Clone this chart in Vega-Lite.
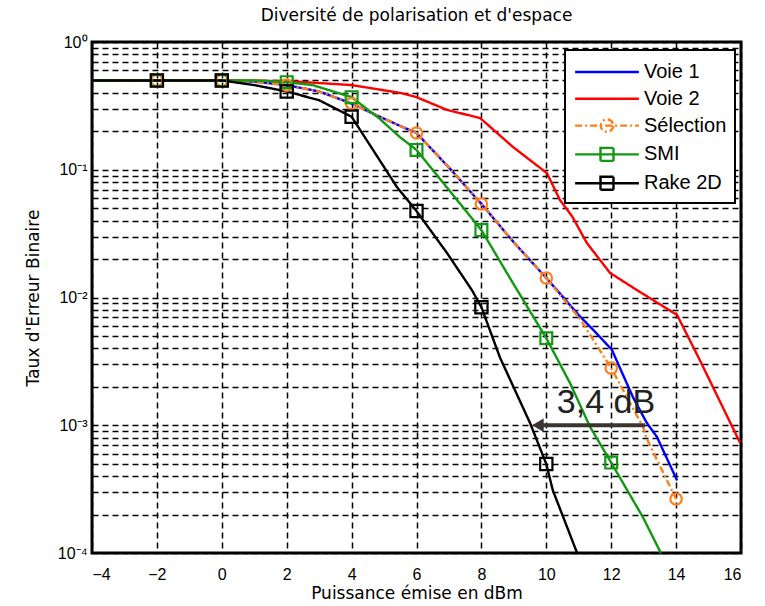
{
  "$schema": "https://vega.github.io/schema/vega-lite/v6.json",
  "autosize": "none",
  "width": 649,
  "height": 511,
  "padding": {"left": 92, "top": 42, "right": 24, "bottom": 53},
  "background": "white",
  "title": {"text": "Diversité de polarisation et d'espace", "font": "DejaVu Sans", "fontSize": 17, "fontWeight": "normal", "color": "black", "offset": 9, "anchor": "middle"},
  "config": {
    "view": {"stroke": "black", "strokeWidth": 3},
    "axis": {
      "labelFont": "Liberation Sans", "labelFontSize": 16, "labelColor": "black",
      "titleFont": "DejaVu Sans", "titleFontSize": 17, "titleFontWeight": "normal", "titleColor": "black",
      "grid": true, "gridColor": "black", "gridDash": [6, 4], "gridWidth": 1.5, "gridOpacity": 1,
      "ticks": false, "domain": false
    },
    "legend": {
      "orient": "none", "legendX": 473, "legendY": 8, "strokeColor": "black", "strokeWidth": 2, "fillColor": "white",
      "padding": 8, "labelFont": "Liberation Sans", "labelFontSize": 20, "labelColor": "black",
      "symbolSize": 625, "symbolOffset": 20, "symbolStrokeWidth": 3, "labelOffset": 23, "rowPadding": 2.8, "labelLimit": 200
    }
  },
  "datasets": {
    "curves": [
      {"s": "Voie 1", "x": -4, "y": 0.5}, {"s": "Voie 1", "x": -2, "y": 0.5}, {"s": "Voie 1", "x": 0, "y": 0.5},
      {"s": "Voie 1", "x": 1, "y": 0.49}, {"s": "Voie 1", "x": 2, "y": 0.46}, {"s": "Voie 1", "x": 3, "y": 0.41},
      {"s": "Voie 1", "x": 4, "y": 0.33}, {"s": "Voie 1", "x": 4.87, "y": 0.26}, {"s": "Voie 1", "x": 5.5, "y": 0.22},
      {"s": "Voie 1", "x": 6, "y": 0.194}, {"s": "Voie 1", "x": 7, "y": 0.104}, {"s": "Voie 1", "x": 8, "y": 0.054},
      {"s": "Voie 1", "x": 9, "y": 0.027}, {"s": "Voie 1", "x": 10, "y": 0.0142}, {"s": "Voie 1", "x": 11.04, "y": 0.0071},
      {"s": "Voie 1", "x": 11.44, "y": 0.0056}, {"s": "Voie 1", "x": 12.02, "y": 0.0039}, {"s": "Voie 1", "x": 12.67, "y": 0.00166},
      {"s": "Voie 1", "x": 13.1, "y": 0.00104}, {"s": "Voie 1", "x": 13.41, "y": 0.00081}, {"s": "Voie 1", "x": 14.03, "y": 0.00037},

      {"s": "Voie 2", "x": -4, "y": 0.5}, {"s": "Voie 2", "x": -2, "y": 0.5}, {"s": "Voie 2", "x": 0, "y": 0.5},
      {"s": "Voie 2", "x": 2, "y": 0.495}, {"s": "Voie 2", "x": 4, "y": 0.46}, {"s": "Voie 2", "x": 5.49, "y": 0.4},
      {"s": "Voie 2", "x": 6, "y": 0.37}, {"s": "Voie 2", "x": 6.94, "y": 0.294}, {"s": "Voie 2", "x": 7.96, "y": 0.254},
      {"s": "Voie 2", "x": 8.97, "y": 0.151}, {"s": "Voie 2", "x": 10.02, "y": 0.094}, {"s": "Voie 2", "x": 10.42, "y": 0.058},
      {"s": "Voie 2", "x": 10.8, "y": 0.043}, {"s": "Voie 2", "x": 11.25, "y": 0.0267}, {"s": "Voie 2", "x": 11.96, "y": 0.0156},
      {"s": "Voie 2", "x": 12.8, "y": 0.0114}, {"s": "Voie 2", "x": 14.03, "y": 0.0073}, {"s": "Voie 2", "x": 14.74, "y": 0.0032},
      {"s": "Voie 2", "x": 15.97, "y": 0.00073},

      {"s": "Sélection", "x": -4, "y": 0.5}, {"s": "Sélection", "x": -2, "y": 0.5}, {"s": "Sélection", "x": 0, "y": 0.5},
      {"s": "Sélection", "x": 1, "y": 0.49}, {"s": "Sélection", "x": 2, "y": 0.46}, {"s": "Sélection", "x": 3, "y": 0.41},
      {"s": "Sélection", "x": 4, "y": 0.33}, {"s": "Sélection", "x": 4.87, "y": 0.26}, {"s": "Sélection", "x": 5.5, "y": 0.22},
      {"s": "Sélection", "x": 6, "y": 0.194}, {"s": "Sélection", "x": 7, "y": 0.104}, {"s": "Sélection", "x": 8, "y": 0.054},
      {"s": "Sélection", "x": 9, "y": 0.027}, {"s": "Sélection", "x": 10, "y": 0.0142}, {"s": "Sélection", "x": 11.04, "y": 0.0068},
      {"s": "Sélection", "x": 12, "y": 0.0028}, {"s": "Sélection", "x": 12.98, "y": 0.00097}, {"s": "Sélection", "x": 13.1, "y": 0.00078},
      {"s": "Sélection", "x": 13.72, "y": 0.00037}, {"s": "Sélection", "x": 14, "y": 0.000265},

      {"s": "SMI", "x": -4, "y": 0.5}, {"s": "SMI", "x": -2, "y": 0.5}, {"s": "SMI", "x": 0, "y": 0.5},
      {"s": "SMI", "x": 1, "y": 0.5}, {"s": "SMI", "x": 2, "y": 0.485}, {"s": "SMI", "x": 2.8, "y": 0.46},
      {"s": "SMI", "x": 4, "y": 0.37}, {"s": "SMI", "x": 4.87, "y": 0.25}, {"s": "SMI", "x": 5.49, "y": 0.18},
      {"s": "SMI", "x": 6, "y": 0.143}, {"s": "SMI", "x": 7.25, "y": 0.058}, {"s": "SMI", "x": 8, "y": 0.0337},
      {"s": "SMI", "x": 8.97, "y": 0.013}, {"s": "SMI", "x": 10, "y": 0.0048}, {"s": "SMI", "x": 10.73, "y": 0.00214},
      {"s": "SMI", "x": 11.35, "y": 0.00097}, {"s": "SMI", "x": 12, "y": 0.00051}, {"s": "SMI", "x": 12.98, "y": 0.00019},
      {"s": "SMI", "x": 13.53, "y": 0.0001},

      {"s": "Rake 2D", "x": -4, "y": 0.5}, {"s": "Rake 2D", "x": -2, "y": 0.5}, {"s": "Rake 2D", "x": 0, "y": 0.5},
      {"s": "Rake 2D", "x": 1, "y": 0.46}, {"s": "Rake 2D", "x": 2, "y": 0.41}, {"s": "Rake 2D", "x": 3, "y": 0.35},
      {"s": "Rake 2D", "x": 4, "y": 0.26}, {"s": "Rake 2D", "x": 4.66, "y": 0.143}, {"s": "Rake 2D", "x": 5.4, "y": 0.073},
      {"s": "Rake 2D", "x": 6, "y": 0.0475}, {"s": "Rake 2D", "x": 6.94, "y": 0.0223}, {"s": "Rake 2D", "x": 7.71, "y": 0.0114},
      {"s": "Rake 2D", "x": 8, "y": 0.0084}, {"s": "Rake 2D", "x": 8.57, "y": 0.0034}, {"s": "Rake 2D", "x": 9.5, "y": 0.00104},
      {"s": "Rake 2D", "x": 10, "y": 0.000497}, {"s": "Rake 2D", "x": 10.2, "y": 0.00031}, {"s": "Rake 2D", "x": 10.95, "y": 0.0001}
    ],
    "markers": [
      {"s": "Sélection", "x": -2, "y": 0.5}, {"s": "Sélection", "x": 0, "y": 0.5}, {"s": "Sélection", "x": 2, "y": 0.46},
      {"s": "Sélection", "x": 4, "y": 0.33}, {"s": "Sélection", "x": 6, "y": 0.194}, {"s": "Sélection", "x": 8, "y": 0.054},
      {"s": "Sélection", "x": 10, "y": 0.0142}, {"s": "Sélection", "x": 12, "y": 0.0028}, {"s": "Sélection", "x": 14, "y": 0.000265},
      {"s": "SMI", "x": -2, "y": 0.5}, {"s": "SMI", "x": 0, "y": 0.5}, {"s": "SMI", "x": 2, "y": 0.485},
      {"s": "SMI", "x": 4, "y": 0.37}, {"s": "SMI", "x": 6, "y": 0.143}, {"s": "SMI", "x": 8, "y": 0.0337},
      {"s": "SMI", "x": 10, "y": 0.0048}, {"s": "SMI", "x": 12, "y": 0.00051},
      {"s": "Rake 2D", "x": -2, "y": 0.5}, {"s": "Rake 2D", "x": 0, "y": 0.5}, {"s": "Rake 2D", "x": 2, "y": 0.41},
      {"s": "Rake 2D", "x": 4, "y": 0.26}, {"s": "Rake 2D", "x": 6, "y": 0.0475}, {"s": "Rake 2D", "x": 8, "y": 0.0084},
      {"s": "Rake 2D", "x": 10, "y": 0.000497}
    ],
    "arrow": [{"x": 9.74, "x2": 13.04, "y": 0.001}],
    "arrowhead": [{"x": 9.74, "y": 0.001}],
    "note": [{"x": 11.84, "y": 0.00125, "label": "3,4 dB"}]
  },
  "encoding": {
    "x": {"field": "x", "type": "quantitative",
      "scale": {"domain": [-4, 16], "nice": false, "zero": false},
      "axis": {"values": [-4, -2, 0, 2, 4, 6, 8, 10, 12, 14, 16], "title": "Puissance émise en dBm", "labelPadding": 13, "titlePadding": 3}},
    "y": {"field": "y", "type": "quantitative",
      "scale": {"type": "log", "domain": [0.0001, 1], "nice": false},
      "axis": {"values": [0.0001, 0.0002, 0.0003, 0.0004, 0.0005, 0.0006, 0.0007, 0.0008, 0.0009,
                          0.001, 0.002, 0.003, 0.004, 0.005, 0.006, 0.007, 0.008, 0.009,
                          0.01, 0.02, 0.03, 0.04, 0.05, 0.06, 0.07, 0.08, 0.09,
                          0.1, 0.2, 0.3, 0.4, 0.5, 0.6, 0.7, 0.8, 0.9, 1],
        "labelExpr": "datum.value == 1 ? '10⁰' : datum.value == 0.1 ? '10⁻¹' : datum.value == 0.01 ? '10⁻²' : datum.value == 0.001 ? '10⁻³' : datum.value == 0.0001 ? '10⁻⁴' : ''",
        "title": "Taux d'Erreur Binaire", "labelPadding": 5, "titlePadding": 15}}
  },
  "layer": [
    {
      "data": {"name": "curves"},
      "mark": {"type": "line", "clip": true},
      "encoding": {
        "color": {"field": "s", "type": "nominal",
          "scale": {"domain": ["Voie 1", "Voie 2", "Sélection", "SMI", "Rake 2D"], "range": ["#0000ff", "#ff0000", "#ff7f1a", "#119911", "#000000"]},
          "legend": {"title": null,
            "encode": {"symbols": {"update": {
              "shape": {"signal": "datum.value === 'Sélection' ? 'M-2.55,0H2.55M0.5,0A0.5,0.5 0 1,1 -0.5,0A0.5,0.5 0 1,1 0.5,0Z' : (datum.value === 'SMI' || datum.value === 'Rake 2D') ? 'M-2.55,0H2.55M-0.52,-0.52H0.52V0.52H-0.52Z' : 'M-2.55,0H2.55'"},
              "strokeDash": {"signal": "datum.value === 'Sélection' ? [7, 3, 2, 3] : [1, 0]"},
              "strokeWidth": {"signal": "datum.value === 'Rake 2D' ? 4 : 3"},
              "fill": {"value": "transparent"},
              "fillOpacity": {"value": 0},
              "opacity": {"value": 1}
            }}}}},
        "strokeDash": {"field": "s", "type": "nominal",
          "scale": {"domain": ["Voie 1", "Voie 2", "Sélection", "SMI", "Rake 2D"], "range": [[1, 0], [1, 0], [7, 3, 2, 3], [1, 0], [1, 0]]},
          "legend": null},
        "strokeWidth": {"field": "s", "type": "nominal",
          "scale": {"domain": ["Voie 1", "Voie 2", "Sélection", "SMI", "Rake 2D"], "range": [2.4, 2.4, 2.4, 2, 2.8]},
          "legend": null}
      }
    },
    {
      "data": {"name": "markers"},
      "mark": {"type": "point", "filled": false, "strokeWidth": 2.2, "opacity": 1, "clip": true},
      "encoding": {
        "color": {"field": "s", "type": "nominal", "legend": null},
        "shape": {"field": "s", "type": "nominal",
          "scale": {"domain": ["Sélection", "SMI", "Rake 2D"], "range": ["circle", "square", "square"]},
          "legend": null},
        "size": {"field": "s", "type": "nominal",
          "scale": {"domain": ["Sélection", "SMI", "Rake 2D"], "range": [130, 150, 150]},
          "legend": null}
      }
    },
    {
      "data": {"name": "arrow"},
      "mark": {"type": "rule", "color": "#3b3431", "strokeWidth": 4},
      "encoding": {"x2": {"field": "x2"}}
    },
    {
      "data": {"name": "arrowhead"},
      "mark": {"type": "point", "shape": "triangle-left", "filled": true, "color": "#3b3431", "size": 180, "opacity": 1},
      "encoding": {}
    },
    {
      "data": {"name": "note"},
      "mark": {"type": "text", "font": "Liberation Sans", "fontSize": 34, "color": "#222222", "align": "center", "baseline": "alphabetic"},
      "encoding": {"text": {"field": "label"}}
    }
  ]
}
